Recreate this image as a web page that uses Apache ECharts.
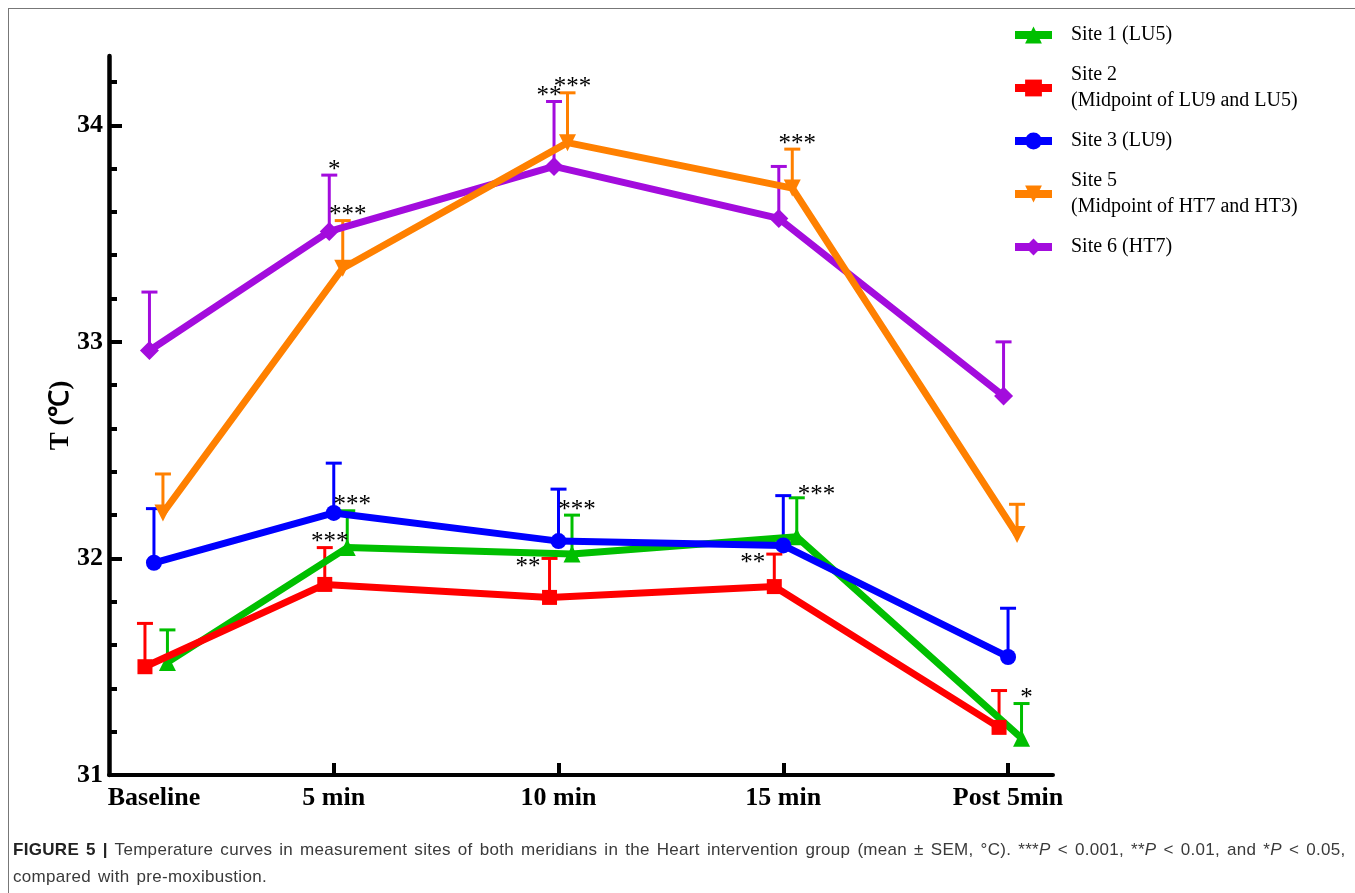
<!DOCTYPE html>
<html>
<head>
<meta charset="utf-8">
<script src="https://cdn.jsdelivr.net/npm/echarts@6/dist/echarts.min.js"></script>
<style>
  html, body { margin: 0; padding: 0; background: #fff; }
  #frame {
    position: absolute; left: 8px; top: 8px; right: 0; bottom: 0;
    border-top: 1.5px solid #777; border-left: 1.5px solid #777;
  }
  #chart { position: absolute; left: 0; top: 0; width: 1355px; height: 893px; }
  #caption {
    position: absolute; left: 13px; top: 836px;
    font-family: "Liberation Sans", Arial, sans-serif; font-size: 17px;
    letter-spacing: 0.3px; word-spacing: 2px;
    line-height: 27px; color: #3a3a3a; white-space: nowrap;
  }
  #caption b { color: #222; }
</style>
</head>
<body>
<div id="frame"></div>
<div id="chart"></div>
<div id="caption"><b>FIGURE 5 |</b> Temperature curves in measurement sites of both meridians in the Heart intervention group (mean ± SEM, °C). ***<i>P</i> &lt; 0.001, **<i>P</i> &lt; 0.01, and *<i>P</i> &lt; 0.05,<br>compared with pre-moxibustion.</div>
<script>
/* ================================
   DATA
================================ */
const timePoints  = ["Baseline", "5 min", "10 min", "15 min", "Post 5min"];
const timeMinutes = [1, 5, 10, 15, 20];

const site1Mean = [31.52, 32.05, 32.02, 32.10, 31.17];
const site1Sem  = [0.15, 0.17, 0.18, 0.18, 0.16];
const site1Sig  = ["", "***", "***", "***", "*"];

const site2Mean = [31.50, 31.88, 31.82, 31.87, 31.22];
const site2Sem  = [0.20, 0.17, 0.18, 0.15, 0.17];
const site2Sig  = ["", "***", "**", "**", ""];

const site3Mean = [31.98, 32.21, 32.08, 32.06, 31.545];
const site3Sem  = [0.25, 0.23, 0.24, 0.23, 0.225];
const site3Sig  = ["", "", "", "", ""];

const site5Mean = [32.21, 33.34, 33.92, 33.71, 32.11];
const site5Sem  = [0.18, 0.22, 0.23, 0.18, 0.14];
const site5Sig  = ["", "***", "***", "***", ""];

const site6Mean = [32.96, 33.51, 33.81, 33.57, 32.75];
const site6Sem  = [0.27, 0.26, 0.30, 0.24, 0.25];
const site6Sig  = ["", "*", "**", "", ""];

const yMajorTicks = [31, 32, 33, 34];
const yMinorTicks = [31.2, 31.4, 31.6, 31.8, 32.2, 32.4, 32.6, 32.8,
                     33.2, 33.4, 33.6, 33.8, 34.2];
const xTicks = [5, 10, 15, 20];

/* ================================
   SERIES LOOK (offset = small horizontal nudge, minutes)
================================ */
const SERIF = '"Liberation Serif", "Times New Roman", serif';

const sites = [
  { name: "Site 1 (LU5)", mean: site1Mean, sem: site1Sem, sig: site1Sig,
    side: ["", "c", "c", "r", "c"],
    color: "#00BF00", symbol: "triangle", size: 17, rotate: 0, offset: 0.3, z: 3 },
  { name: "Site 2\n(Midpoint of LU9 and LU5)", mean: site2Mean, sem: site2Sem, sig: site2Sig,
    side: ["", "c", "l", "l", ""],
    color: "#FF0000", symbol: "rect", size: 15, rotate: 0, offset: -0.2, z: 4 },
  { name: "Site 3 (LU9)", mean: site3Mean, sem: site3Sem, sig: site3Sig,
    side: ["", "", "", "", ""],
    color: "#0000FF", symbol: "circle", size: 16, rotate: 0, offset: 0, z: 5 },
  { name: "Site 5\n(Midpoint of HT7 and HT3)", mean: site5Mean, sem: site5Sem, sig: site5Sig,
    side: ["", "c", "c", "c", ""],
    color: "#FF8000", symbol: "triangle", size: 17, rotate: 180, offset: 0.2, z: 6 },
  { name: "Site 6 (HT7)", mean: site6Mean, sem: site6Sem, sig: site6Sig,
    side: ["", "c", "cl", "", ""],
    color: "#A30CDD", symbol: "diamond", size: 19, rotate: 0, offset: -0.1, z: 2 }
];

/* ================================
   ERROR BAR ITEMS
================================ */
const errItems = [];
sites.forEach((s, si) => {
  s.mean.forEach((m, i) => {
    errItems.push({
      value: [timeMinutes[i] + s.offset, m, m + s.sem[i]],
      site: si, sig: s.sig[i], side: s.side[i]
    });
  });
});

function renderError(params, api) {
  const item = errItems[params.dataIndex];
  const s = sites[item.site];
  const p0 = api.coord([api.value(0), api.value(1)]);
  const p1 = api.coord([api.value(0), api.value(2)]);
  const children = [
    { type: "line", shape: { x1: p0[0], y1: p0[1], x2: p1[0], y2: p1[1] },
      style: { stroke: s.color, lineWidth: 3 } },
    { type: "line", shape: { x1: p1[0] - 8, y1: p1[1], x2: p1[0] + 8, y2: p1[1] },
      style: { stroke: s.color, lineWidth: 3 } }
  ];
  if (item.sig) {
    let x = p1[0] + 5, y = p1[1] - 5, align = "center";
    if (item.side === "cl") { x = p1[0] - 5; }
    if (item.side === "l") { x = p1[0] - 9; y = p1[1] + 9; align = "right"; }
    if (item.side === "r") { x = p1[0] + 1; y = p1[1] - 2; align = "left"; }
    children.push({
      type: "text", z2: 10,
      style: { text: item.sig, x: x, y: y, align: align, verticalAlign: "middle",
               fill: "#000", fontSize: 25, fontFamily: SERIF }
    });
  }
  return { type: "group", children: children };
}

/* ================================
   CHART
================================ */
const chart = echarts.init(document.getElementById("chart"));

const lineSeries = sites.map(s => ({
  name: s.name,
  type: "line",
  data: timeMinutes.map((t, i) => [t + s.offset, s.mean[i]]),
  symbol: s.symbol,
  symbolSize: s.size,
  symbolRotate: s.rotate,
  showAllSymbol: true,
  z: s.z + 2,
  lineStyle: { color: s.color, width: 7 },
  itemStyle: { color: s.color },
  emphasis: { disabled: true },
  animation: false
}));

chart.setOption({
  animation: false,
  grid: { left: 109, right: 302, top: 56, bottom: 118 },
  legend: {
    orient: "vertical",
    left: 1006, top: 17,
    itemWidth: 37, itemHeight: 21, itemGap: 14,
    data: sites.map(s => s.name),
    selectedMode: false,
    lineStyle: { width: 8 },
    textStyle: { fontFamily: SERIF, fontSize: 20, lineHeight: 26, color: "#000",
                 padding: [0, 0, 0, 14] }
  },
  xAxis: {
    type: "value", min: 0, max: 21,
    axisLine: { onZero: false, lineStyle: { color: "#000", width: 4 } },
    axisTick: { inside: true, length: 12, customValues: xTicks,
                lineStyle: { color: "#000", width: 4 } },
    axisLabel: {
      customValues: timeMinutes, margin: 10,
      formatter: v => timePoints[timeMinutes.indexOf(v)],
      fontFamily: SERIF, fontWeight: "bold", fontSize: 26, color: "#000"
    },
    splitLine: { show: false }
  },
  yAxis: [
    {
      type: "value", min: 31, max: 34.32,
      name: "T (℃)", nameLocation: "middle", nameGap: 34, nameRotate: 90,
      nameMoveOverlap: false,
      nameTextStyle: { fontFamily: SERIF, fontWeight: "bold", fontSize: 27, color: "#000" },
      axisLine: { onZero: false, lineStyle: { color: "#000", width: 4.5 } },
      axisTick: { inside: true, length: 13, customValues: yMajorTicks,
                  lineStyle: { color: "#000", width: 4 } },
      axisLabel: { customValues: yMajorTicks, margin: 6,
                   fontFamily: SERIF, fontWeight: "bold", fontSize: 26, color: "#000" },
      splitLine: { show: false }
    },
    {
      type: "value", min: 31, max: 34.32, position: "left",
      axisLine: { show: false },
      axisTick: { inside: true, length: 8, customValues: yMinorTicks,
                  lineStyle: { color: "#000", width: 4 } },
      axisLabel: { show: false },
      splitLine: { show: false }
    }
  ],
  series: [
    {
      type: "custom",
      renderItem: renderError,
      data: errItems.map(d => d.value),
      encode: { x: 0, y: [1, 2] },
      z: 1,
      silent: true,
      clip: false
    }
  ].concat(lineSeries)
});
</script>
</body>
</html>
